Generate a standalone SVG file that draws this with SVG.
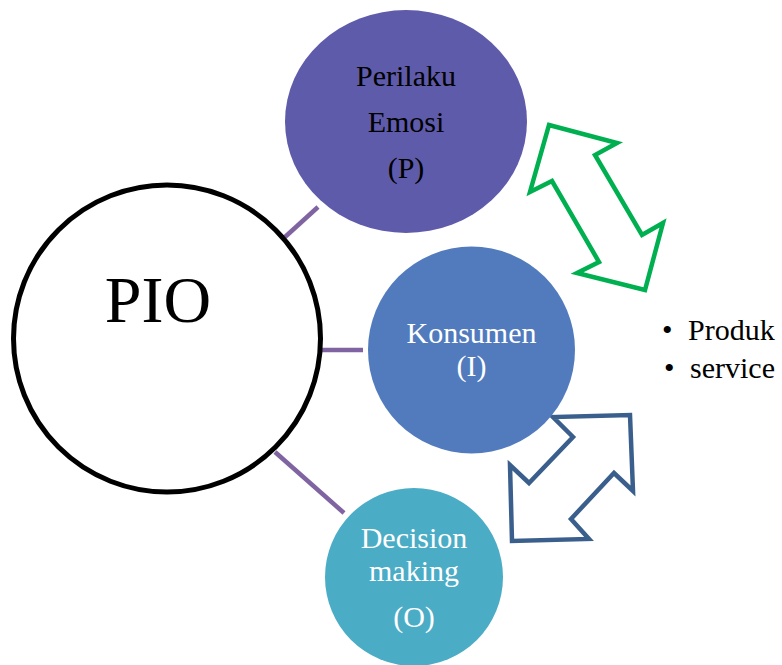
<svg xmlns="http://www.w3.org/2000/svg" width="782" height="665" viewBox="0 0 782 665">
  <style>
    .lbl { font-family: "Liberation Serif", "Times New Roman", serif; font-size: 30px; text-anchor: middle; }
    .dark { fill: #000000; }
    .light { fill: #ffffff; }
    .link { stroke: #8064A2; stroke-width: 4.5; fill: none; }
    .arrow { fill: #ffffff; stroke-width: 4.5; stroke-linejoin: miter; }
  </style>
  <rect width="782" height="665" fill="#ffffff"/>

  <!-- connectors from the hub to the three satellites -->
  <g id="connectors">
    <line class="link" x1="285" y1="237" x2="318" y2="207"/>
    <line class="link" x1="322" y1="350" x2="363" y2="350"/>
    <line class="link" x1="275" y1="452" x2="344" y2="513"/>
  </g>

  <!-- double-headed block arrows -->
  <g id="arrow-p-i">
    <polygon class="arrow" stroke="#00B050" points="549,125 617,143 595,155 642,235 663,223 645,290 577,273 599,262 552,181 530,192"/>
  </g>
  <g id="arrow-i-o">
    <polygon class="arrow" stroke="#3A5F8D" points="630,415 633,491 614,473 571,519 589,539 512,541 510,465 529,483 573,437 553,417"/>
  </g>

  <!-- hub -->
  <g id="node-pio">
    <circle cx="167" cy="338.5" r="153.5" fill="#ffffff" stroke="#000000" stroke-width="5"/>
    <text class="lbl dark" x="158" y="322" style="font-size:66px">PIO</text>
  </g>

  <g id="node-p">
    <ellipse cx="406" cy="121.5" rx="121" ry="111.5" fill="#5F5BAB"/>
    <text class="lbl dark" x="406" y="86">Perilaku</text>
    <text class="lbl dark" x="406" y="132">Emosi</text>
    <text class="lbl dark" x="406" y="178">(P)</text>
  </g>

  <g id="node-i">
    <circle cx="471.5" cy="350" r="103.5" fill="#517BBD"/>
    <text class="lbl light" x="471.5" y="343">Konsumen</text>
    <text class="lbl light" x="471.5" y="376">(I)</text>
  </g>

  <g id="node-o">
    <circle cx="414" cy="577" r="89" fill="#4BACC6"/>
    <text class="lbl light" x="414" y="548">Decision</text>
    <text class="lbl light" x="414" y="581">making</text>
    <text class="lbl light" x="414" y="627">(O)</text>
  </g>

  <!-- bullet list -->
  <g id="list" style="font-family:'Liberation Serif','Times New Roman',serif;font-size:30px;fill:#000000">
    <text x="662" y="340">•</text>
    <text x="688" y="340">Produk</text>
    <text x="664" y="378">•</text>
    <text x="690" y="378">service</text>
  </g>
</svg>
